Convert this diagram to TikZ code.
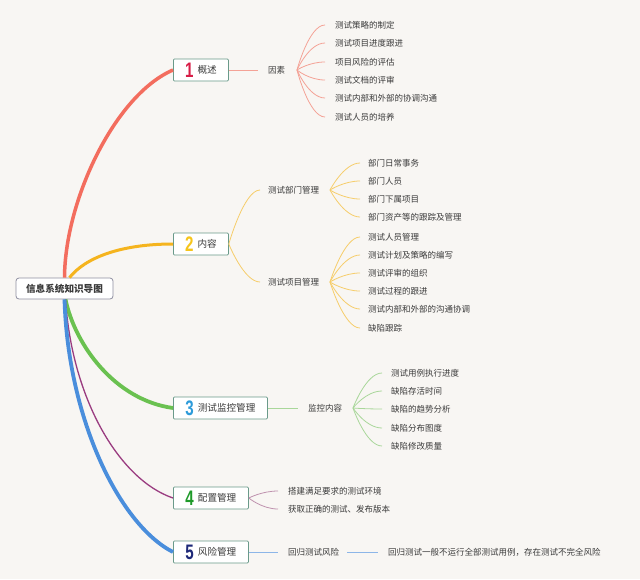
\documentclass[tikz,border=0pt]{standalone}
\usepackage{fontspec}
\usepackage{graphicx}
\usetikzlibrary{calc}
\setmainfont{Noto Sans CJK SC}
\newfontfamily\numfont{Liberation Sans}
\definecolor{bg}{HTML}{F8F6F3}
\definecolor{txt}{HTML}{3A3A3A}
\definecolor{bordc}{HTML}{6A9A8A}
\definecolor{rootb}{HTML}{8E8EA0}
\definecolor{nA}{HTML}{D81E48}
\definecolor{nB}{HTML}{F6C51B}
\definecolor{nC}{HTML}{2D9BDA}
\definecolor{nD}{HTML}{1F9A2A}
\definecolor{nE}{HTML}{1D2878}
\definecolor{cA}{HTML}{F36D5E}
\definecolor{cAl}{HTML}{F4A296}
\definecolor{cB}{HTML}{F5B41E}
\definecolor{cBl}{HTML}{F6CD6A}
\definecolor{cC}{HTML}{6AC150}
\definecolor{cCl}{HTML}{A9D79A}
\definecolor{cD}{HTML}{9A3C80}
\definecolor{cDl}{HTML}{BF92AE}
\definecolor{cE}{HTML}{4A8EDC}
\definecolor{cEl}{HTML}{8DB6E8}
\newcommand\bignum[2]{\raisebox{-3.5pt}{\textcolor{#2}{\scalebox{0.72}[1]{\numfont\bfseries\fontsize{21}{21}\selectfont #1}}}}
\tikzset{
  topic/.style={draw=bordc, fill=white, line width=0.8pt, rounded corners=1pt,
    minimum height=22pt, inner sep=1pt, anchor=west, text=txt,
    font=\fontsize{9.6}{11}\selectfont},
  rootbox/.style={draw=rootb, fill=white, line width=0.8pt, rounded corners=3pt,
    minimum height=21pt, minimum width=97pt, inner sep=1pt, text=txt,
    font=\fontsize{9.6}{11}\selectfont\bfseries},
  leaf/.style={anchor=west, inner sep=0pt, text=txt, font=\fontsize{8.5}{10}\selectfont},
  fan/.style={to path={.. controls (\tikztostart) and ($(\tikztotarget)+(-16,0)$) .. (\tikztotarget)}},
  thin/.style={line width=0.8pt},
}
\begin{document}
\begin{tikzpicture}[x=1pt,y=-1pt]
\fill[bg] (0,0) rectangle (640,579);
\useasboundingbox (0,0) rectangle (640,579);

% root and topics
\node[rootbox] (root) at (64.5,288.5) {信息系统知识导图};
\node[topic, minimum width=55pt] (t1) at (173,70) {\bignum{1}{nA}\hspace{4pt}概述};
\node[topic, minimum width=55pt] (t2) at (173,244) {\bignum{2}{nB}\hspace{4pt}内容};
\node[topic, minimum width=94pt] (t3) at (173,408) {\bignum{3}{nC}\hspace{4pt}测试监控管理};
\node[topic, minimum width=75pt] (t4) at (173,498) {\bignum{4}{nD}\hspace{4pt}配置管理};
\node[topic, minimum width=75pt] (t5) at (173,552) {\bignum{5}{nE}\hspace{4pt}风险管理};

% main branches
\draw[cA, line width=3.5pt] (root.north) .. controls (65,200) and (115,95) .. (t1.west);
\draw[cB, line width=3pt] ([xshift=5pt]root.north) .. controls (85,258) and (120,244) .. (t2.west);
\draw[cC, line width=3.8pt] ([xshift=1pt]root.south) .. controls (75,345) and (115,400) .. (t3.west);
\draw[cD, line width=1.3pt] ([xshift=1pt]root.south) .. controls (72,400) and (120,480) .. (t4.west);
\draw[cE, line width=3.8pt] (root.south) .. controls (68,420) and (120,525) .. (t5.west);

% branch 1
\node[leaf] (s1) at (268,70) {因素};
\draw[cAl, thin] (t1.east) -- ([xshift=-10pt]s1.west);
\coordinate (f1) at (297,70);
\foreach \yy/\tt [count=\i] in {25/测试策略的制定, 43/测试项目进度跟进, 62/项目风险的评估, 80/测试文档的评审, 98/测试内部和外部的协调沟通, 117/测试人员的培养} {
  \node[leaf] (a\i) at (335,\yy) {\tt};
  \draw[cAl, thin] (f1) to[fan] ([xshift=-10pt]a\i.west);
}

% branch 2
\node[leaf] (s2a) at (268,190) {测试部门管理};
\node[leaf] (s2b) at (268,282) {测试项目管理};
\draw[cBl, thin] (t2.east) to[fan] ([xshift=-8pt]s2a.west);
\draw[cBl, thin] (t2.east) to[fan] ([xshift=-8pt]s2b.west);
\coordinate (f2a) at (330,190);
\coordinate (f2b) at (330,282);
\foreach \yy/\tt [count=\i] in {163/部门日常事务, 181/部门人员, 199/部门下属项目, 217/部门资产等的跟踪及管理} {
  \node[leaf] (b\i) at (368,\yy) {\tt};
  \draw[cBl, thin] (f2a) to[fan] ([xshift=-8pt]b\i.west);
}
\foreach \yy/\tt [count=\i] in {237/测试人员管理, 255/测试计划及策略的编写, 273/测试评审的组织, 291/测试过程的跟进, 309/测试内部和外部的沟通协调, 328/缺陷跟踪} {
  \node[leaf] (c\i) at (368,\yy) {\tt};
  \draw[cBl, thin] (f2b) to[fan] ([xshift=-8pt]c\i.west);
}

% branch 3
\node[leaf] (s3) at (308,408) {监控内容};
\draw[cCl, thin] (t3.east) -- ([xshift=-10pt]s3.west);
\coordinate (f3) at (353,408);
\foreach \yy/\tt [count=\i] in {373/测试用例执行进度, 391/缺陷存活时间, 409/缺陷的趋势分析, 428/缺陷分布图度, 446/缺陷修改质量} {
  \node[leaf] (d\i) at (391,\yy) {\tt};
  \draw[cCl, thin] (f3) to[fan] ([xshift=-9pt]d\i.west);
}

% branch 4
\foreach \yy/\tt [count=\i] in {491/搭建满足要求的测试环境, 509/获取正确的测试、发布版本} {
  \node[leaf] (e\i) at (288,\yy) {\tt};
  \draw[cDl, thin] (t4.east) to[fan] ([xshift=-10pt]e\i.west);
}

% branch 5
\node[leaf] (s5) at (288,552) {回归测试风险};
\node[leaf] (g1) at (388,552) {回归测试一般不运行全部测试用例，存在测试不完全风险};
\draw[cEl, thin] (t5.east) -- ([xshift=-10pt]s5.west);
\draw[cEl, thin] ([xshift=8pt]s5.east) -- ([xshift=-10pt]g1.west);
\end{tikzpicture}
\end{document}
